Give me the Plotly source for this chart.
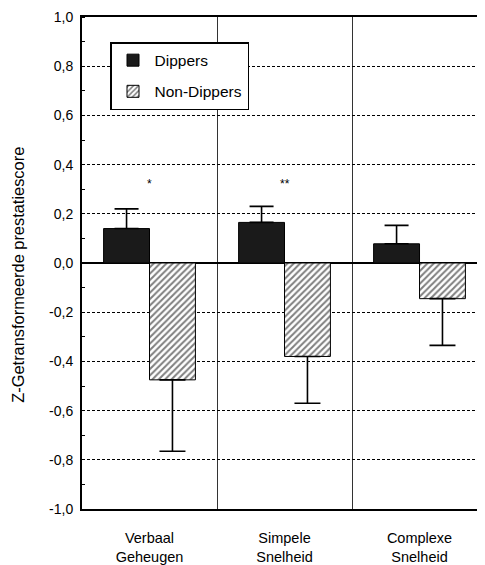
import plotly.graph_objects as go

categories = ["Verbaal<br>Geheugen", "Simpele<br>Snelheid", "Complexe<br>Snelheid"]
dippers = [0.14, 0.165, 0.078]
dippers_err = [0.08, 0.065, 0.075]
non_dippers = [-0.475, -0.38, -0.145]
non_dippers_err = [0.29, 0.19, 0.19]
significance = ["*", "**", ""]
y_ticks = [1.0, 0.8, 0.6, 0.4, 0.2, 0.0, -0.2, -0.4, -0.6, -0.8, -1.0]
y_tick_text = ["1,0", "0,8", "0,6", "0,4", "0,2", "0,0", "-0,2", "-0,4", "-0,6", "-0,8", "-1,0"]

xpos = list(range(len(categories)))
FONT = "Liberation Sans, Arial, sans-serif"
W = 0.34

fig = go.Figure()
fig.add_trace(go.Bar(
    x=xpos, y=dippers, name="Dippers", width=W, offset=-W,
    legendgroup="a",
    marker=dict(color="#1a1a1a", line=dict(color="black", width=1)),
    error_y=dict(type="data", symmetric=False, array=dippers_err,
                 arrayminus=[0] * len(dippers), color="black", thickness=1.6, width=12),
))
fig.add_trace(go.Bar(
    x=xpos, y=non_dippers, name="Non-Dippers", width=W, offset=0,
    legendgroup="b",
    marker=dict(color="white", line=dict(color="black", width=1),
                pattern=dict(shape="/", fgcolor="black", bgcolor="white", size=4.5, solidity=0.45)),
    error_y=dict(type="data", symmetric=False, array=[0] * len(non_dippers),
                 arrayminus=non_dippers_err, color="black", thickness=1.6, width=13),
))

for i, s in enumerate(significance):
    if s:
        fig.add_annotation(x=i, y=0.32, text=s, showarrow=False,
                           font=dict(size=12, color="black", family=FONT))

fig.add_annotation(xref="paper", yref="paper", x=-0.159, y=0.476,
                   text="Z-Getransformeerde prestatiescore", textangle=-90,
                   showarrow=False, xanchor="center", yanchor="middle",
                   font=dict(size=16.4, color="black", family=FONT))

# page body has an 8px margin: shrink figure so the plot lands where the reference has it
fig.update_layout(
    width=477, height=557,
    margin=dict(l=74, r=0, t=9, b=56, autoexpand=False),
    paper_bgcolor="white", plot_bgcolor="white",
    font=dict(family=FONT, color="black", size=14),
    barmode="overlay",
    showlegend=True,
    legend=dict(x=0.0695, y=0.949, xanchor="left", yanchor="top",
                bgcolor="white", bordercolor="black", borderwidth=1.5,
                font=dict(size=15.5, family=FONT), tracegroupgap=8,
                traceorder="grouped", itemwidth=33, entrywidth=112),
    xaxis=dict(range=[-0.5, 2.485], tickvals=xpos, ticktext=categories,
               automargin=False,
               showgrid=False, zeroline=False, showline=True, mirror=True,
               linecolor="black", linewidth=2, ticks="", ticklabelstandoff=15,
               tickfont=dict(size=14.5),
               minor=dict(tickvals=[i + 0.5 for i in xpos[:-1]], showgrid=True,
                          gridcolor="#333", gridwidth=1)),
    yaxis=dict(range=[-1.0, 1.0], tickvals=y_ticks, ticktext=y_tick_text,
               automargin=False,
               showgrid=True, gridcolor="black", gridwidth=1, griddash="3px,2px",
               zeroline=True, zerolinecolor="black", zerolinewidth=1.5,
               showline=True, linecolor="black", linewidth=2, ticks="",
               ticklabelstandoff=4, tickfont=dict(size=14),
               minor=dict(dtick=0.1, ticks="inside", ticklen=3, tickcolor="black",
                          showgrid=False)),
)

fig.write_html("out.html")
